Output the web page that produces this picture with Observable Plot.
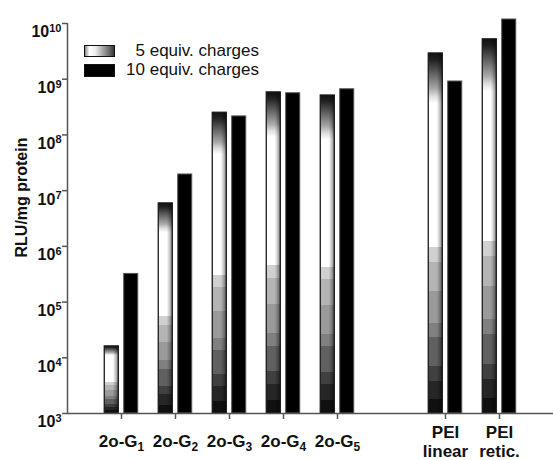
<!DOCTYPE html>
<html><head><meta charset="utf-8">
<script src="https://cdn.jsdelivr.net/npm/d3@7"></script>
<script src="https://cdn.jsdelivr.net/npm/@observablehq/plot@0.6"></script>
<style>
body{margin:0;background:#fff;font-family:"Liberation Sans",Arial,sans-serif;}
#wrap{position:relative;width:553px;height:460px;}
.sw{position:absolute;left:84px;width:31px;height:12px;border:1px solid #111;box-sizing:border-box;}
.lt{position:absolute;right:294px;font-size:17px;line-height:20px;color:#111;white-space:nowrap;}
</style>
</head><body>
<div id="wrap"></div>
<script>
// ---- data ----
const categories = ["2o-G_1", "2o-G_2", "2o-G_3", "2o-G_4", "2o-G_5", "PEI\nlinear", "PEI\nretic."];
const positions  = [1, 2, 3, 4, 5, 7, 8];
const charges5   = [1.6e4, 5.9e6, 2.5e8, 5.8e8, 5.1e8, 2.9e9, 5.2e9];
const charges10  = [3.2e5, 1.95e7, 2.15e8, 5.6e8, 6.6e8, 9.1e8, 1.18e10];
const seriesNames = ["5 equiv. charges", "10 equiv. charges"];
const yTicks = [1e3, 1e4, 1e5, 1e6, 1e7, 1e8, 1e9, 1e10];
const yLabel = "RLU/mg protein";
const yMin = 1e3, yMax = 1e10;

const rows5  = categories.map((c, i) => ({cat: c, pos: positions[i], value: charges5[i]}));
const rows10 = categories.map((c, i) => ({cat: c, pos: positions[i], value: charges10[i]}));
const inner = 0.05, outer = 0.31;

const chart = Plot.plot({
  width: 553, height: 460,
  marginLeft: 67, marginRight: 0, marginTop: 23, marginBottom: 47,
  style: {fontFamily: "Liberation Sans, Arial, sans-serif", background: "#fff", color: "#111"},
  x: {domain: [0, 9], axis: null},
  y: {type: "log", domain: [yMin, yMax], axis: null},
  marks: [
    Plot.rect(rows5, {x1: d => d.pos - outer, x2: d => d.pos - inner, y1: yMin, y2: "value", fill: "url(#g5v)"}),
    Plot.rect(rows5, {x1: d => d.pos - outer, x2: d => d.pos - inner, y1: yMin, y2: "value", fill: "url(#g5h)", stroke: "#1a1a1a", strokeWidth: 1.3}),
    Plot.rect(rows10, {x1: d => d.pos + inner, x2: d => d.pos + outer, y1: yMin, y2: "value", fill: "#000", stroke: "#555", strokeWidth: 1}),
    Plot.ruleX([0], {stroke: "#555", strokeWidth: 1.5}),
    Plot.ruleY([yMin], {stroke: "#555", strokeWidth: 1.5}),
    Plot.axisY({ticks: yTicks, tickFormat: d => "10^" + Math.round(Math.log10(d)), tickSize: 5, tickPadding: 1,
      fontSize: 16, fontWeight: "bold", stroke: "#555", strokeWidth: 1.5, label: null}),
    Plot.axisX({ticks: positions, tickFormat: () => "", tickSize: 6, stroke: "#555", strokeWidth: 1.5, label: null}),
    Plot.text(rows5, {x: "pos", text: "cat", frameAnchor: "bottom", textAnchor: "middle", lineAnchor: "middle", lineHeight: 1.1,
      dy: 28, fontSize: 17, fontWeight: "bold", fill: "#111"}),
    Plot.text([yLabel], {frameAnchor: "left", textAnchor: "middle", lineAnchor: "middle", rotate: -90, dx: -46, dy: -21,
      fontSize: 16, fontWeight: "bold", fill: "#111"})
  ]
});

// gradients
const svg = d3.select(chart);
const defs = svg.insert("defs", ":first-child");
const gv = defs.append("linearGradient").attr("id", "g5v").attr("x1", 0).attr("y1", 0).attr("x2", 0).attr("y2", 1);
const vStops = [
  [0, "#111"], [0.02, "#222"], [0.04, "#444"], [0.06, "#666"], [0.08, "#888"], [0.10, "#aaa"], [0.12, "#ddd"], [0.14, "#fff"],
  [0.54, "#fff"], [0.54, "#d0d0d0"], [0.58, "#d0d0d0"], [0.58, "#b4b4b4"], [0.66, "#b4b4b4"], [0.66, "#9a9a9a"],
  [0.75, "#9a9a9a"], [0.75, "#808080"], [0.79, "#808080"], [0.79, "#606060"], [0.87, "#606060"], [0.87, "#404040"],
  [0.91, "#404040"], [0.91, "#262626"], [0.96, "#262626"], [0.96, "#101010"], [1, "#101010"]
];
vStops.forEach(([o, c]) => gv.append("stop").attr("offset", o).attr("stop-color", c));
const gh = defs.append("linearGradient").attr("id", "g5h").attr("x1", 0).attr("y1", 0).attr("x2", 1).attr("y2", 0);
[[0, 0], [0.6, 0], [0.75, 0.15], [0.9, 0.35], [1, 0.5]].forEach(([o, a]) =>
  gh.append("stop").attr("offset", o).attr("stop-color", "#000").attr("stop-opacity", a));

// superscripts / subscripts
svg.selectAll("text").each(function() {
  const t = this.textContent;
  if (t.includes("^")) {
    const [b, e] = t.split("^");
    const s = d3.select(this);
    s.text(b).attr("dy", "0.55em").attr("font-size", 16).attr("font-weight", "bold");
    s.append("tspan").attr("dy", "-0.5em").attr("font-size", 11).text(e);
  } else if (t.includes("_")) {
    const [b, e] = t.split("_");
    const s = d3.select(this);
    s.text(b);
    s.append("tspan").attr("dy", "4").attr("font-size", 12).text(e);
  }
});

const wrap = document.getElementById("wrap");
wrap.appendChild(chart);

// legend (HTML overlay)
const swatchStyles = [
  "background:linear-gradient(to right,#888 0%,#fff 15%,#eee 35%,#aaa 60%,#666 85%,#333 100%);top:45px;",
  "background:#000;top:64px;height:13px;"
];
seriesNames.forEach((name, i) => {
  const sw = document.createElement("div");
  sw.className = "sw";
  sw.setAttribute("style", swatchStyles[i]);
  wrap.appendChild(sw);
  const lt = document.createElement("div");
  lt.className = "lt";
  lt.style.top = (41 + i * 19) + "px";
  lt.textContent = name;
  wrap.appendChild(lt);
});
</script>
</body></html>
